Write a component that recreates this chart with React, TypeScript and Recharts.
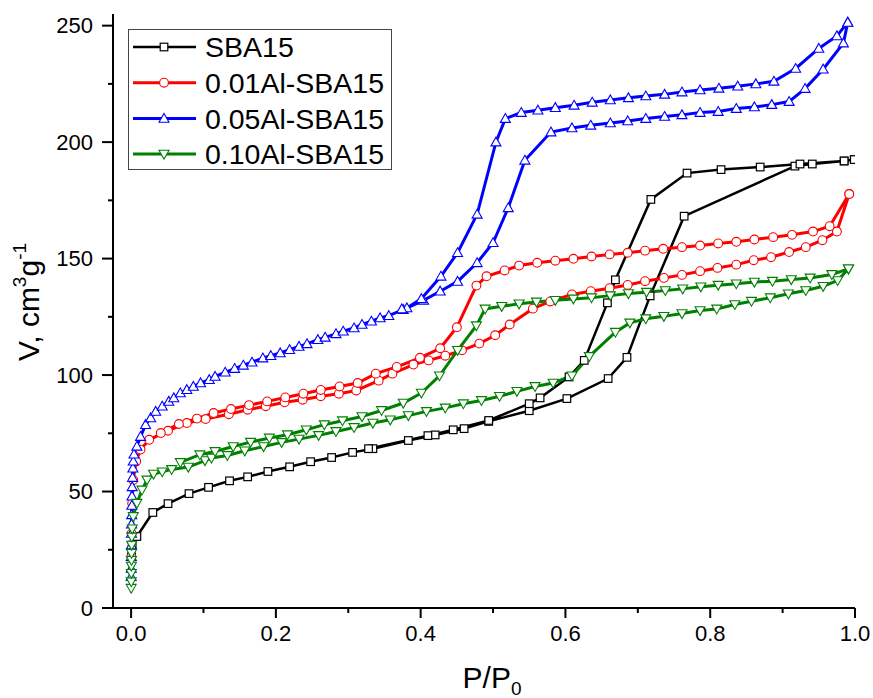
import React from 'react';
import { LineChart, Line, XAxis, YAxis, Legend } from 'recharts';

const FONT = '"Liberation Sans", Arial, Helvetica, sans-serif';

const seriesNames = ['SBA15', '0.01Al-SBA15', '0.05Al-SBA15', '0.10Al-SBA15'];
const seriesColors = ['#000000', '#FF0000', '#0000FF', '#008000'];
const seriesShapes = ['square', 'circle', 'triUp', 'triDown'];

const xTicks = [0, 0.1, 0.2, 0.3, 0.4, 0.5, 0.6, 0.7, 0.8, 0.9, 1.0];
const xMajor = [0, 0.2, 0.4, 0.6, 0.8, 1.0];
const yTicks = [0, 25, 50, 75, 100, 125, 150, 175, 200, 225, 250];
const yMajor = [0, 50, 100, 150, 200, 250];

// [P/P0, V] adsorption then desorption
const sba15Ads: [number, number][] = [
  [0.0005, 22], [0.0015, 27], [0.008, 30.7], [0.03, 41], [0.051, 44.8], [0.08, 49.1], [0.107, 51.8],
  [0.136, 54.6], [0.161, 56.3], [0.189, 58.6], [0.219, 60.6], [0.248, 62.8], [0.277, 64.6], [0.306, 66.8],
  [0.334, 68.4], [0.383, 71.9], [0.42, 74.3], [0.46, 77], [0.494, 80.1], [0.55, 84.7], [0.602, 89.9],
  [0.659, 98.5], [0.685, 107.6], [0.717, 134], [0.764, 168.2], [0.917, 189.7], [0.941, 190.6],
  [0.985, 191.9], [0.999, 192.5],
];
const sba15Des: [number, number][] = [
  [0.999, 192.5], [0.985, 191.9], [0.924, 190.6], [0.869, 189.3], [0.815, 188.2], [0.768, 186.7],
  [0.718, 175.4], [0.669, 140.9], [0.658, 131], [0.626, 106.3], [0.605, 99.2], [0.565, 90.2], [0.55, 87.7],
  [0.494, 80.5], [0.445, 76.5], [0.41, 74], [0.328, 68.4],
];

const al001Ads: [number, number][] = [
  [0.0003, 22], [0.0008, 32], [0.0015, 45], [0.003, 55], [0.007, 63], [0.013, 68], [0.025, 72.2],
  [0.051, 76.1], [0.077, 79.4], [0.103, 81.1], [0.135, 83.2], [0.161, 85.1], [0.186, 86.6], [0.212, 88.3],
  [0.237, 89.4], [0.262, 90.9], [0.287, 92], [0.311, 93.4], [0.342, 97.6], [0.361, 100.6], [0.39, 104.5],
  [0.411, 106.3], [0.434, 108.3], [0.457, 110.6], [0.481, 113.5], [0.503, 117.1], [0.523, 121.7],
  [0.555, 128.5], [0.579, 131.6], [0.609, 134.6], [0.635, 136], [0.661, 137.3], [0.686, 138.7],
  [0.71, 140.3], [0.736, 141.7], [0.761, 143], [0.786, 144.6], [0.81, 146], [0.836, 147.4], [0.86, 149.3],
  [0.884, 150.6], [0.909, 152.8], [0.932, 154.9], [0.955, 157.9], [0.975, 161.6], [0.992, 177.7],
];
const al001Des: [number, number][] = [
  [0.992, 177.7], [0.965, 163.9], [0.942, 161.6], [0.913, 160.2], [0.887, 159.2], [0.861, 158.2],
  [0.836, 157.2], [0.811, 156.5], [0.786, 155.6], [0.761, 154.9], [0.735, 154.2], [0.71, 153.4],
  [0.686, 152.5], [0.661, 151.8], [0.636, 150.9], [0.611, 149.9], [0.586, 149.1], [0.561, 148.2],
  [0.536, 147], [0.516, 144.9], [0.491, 142.4], [0.477, 138.4], [0.45, 120.5], [0.427, 111.5],
  [0.399, 107.4], [0.367, 103.5], [0.338, 100.6], [0.313, 96.6], [0.288, 95.1], [0.262, 93.6],
  [0.238, 92], [0.213, 90.4], [0.188, 88.7], [0.163, 87.1], [0.138, 85.4], [0.114, 83.7], [0.091, 81.3],
  [0.066, 79], [0.041, 75.1],
];

const al005Ads: [number, number][] = [
  [0.0001, 13.5], [0.0002, 17], [0.0003, 22], [0.0004, 27], [0.0005, 32], [0.0006, 36], [0.0008, 40],
  [0.001, 44], [0.0012, 48], [0.0015, 52], [0.002, 56], [0.0025, 60], [0.003, 63], [0.004, 66],
  [0.008, 69.4], [0.013, 73.6], [0.02, 78.7], [0.027, 81.6], [0.034, 84.4], [0.043, 86.6], [0.052, 88.7],
  [0.059, 90.2], [0.068, 92.3], [0.077, 93.7], [0.086, 95.1], [0.096, 96.6], [0.108, 98], [0.116, 99.4],
  [0.13, 101.2], [0.143, 102.8], [0.155, 104.2], [0.167, 105.5], [0.182, 107.3], [0.193, 108.3],
  [0.206, 109.5], [0.219, 110.9], [0.232, 112.3], [0.243, 113.4], [0.258, 115.2], [0.268, 116.2],
  [0.283, 117.7], [0.293, 118.8], [0.308, 120.2], [0.319, 121.7], [0.332, 123.1], [0.344, 124.5],
  [0.356, 125.5], [0.376, 128.1], [0.404, 132.1], [0.427, 136], [0.451, 140.2], [0.478, 148.2],
  [0.5, 156.8], [0.521, 171.8], [0.544, 192.2], [0.58, 204.3], [0.609, 206.1], [0.635, 207.2],
  [0.662, 208.2], [0.686, 209.1], [0.711, 210.1], [0.737, 211], [0.761, 211.7], [0.786, 212.7],
  [0.811, 213.1], [0.836, 214.4], [0.861, 215.1], [0.885, 216.1], [0.909, 217.4], [0.931, 223],
  [0.956, 231.3], [0.984, 242.5], [0.99, 251.4],
];
const al005Des: [number, number][] = [
  [0.99, 251.4], [0.975, 245.6], [0.95, 240.2], [0.918, 231.6], [0.888, 226.1], [0.863, 225],
  [0.838, 224], [0.812, 223.1], [0.786, 222.4], [0.761, 221.5], [0.737, 220.5], [0.711, 219.8],
  [0.687, 219], [0.662, 218.1], [0.637, 217.1], [0.612, 215.8], [0.586, 214.8], [0.562, 213.7],
  [0.539, 212.7], [0.517, 210.1], [0.504, 200], [0.478, 169], [0.451, 152.5], [0.428, 142.4],
  [0.401, 132.8], [0.381, 128.8], [0.374, 128.4],
];

const al010Ads: [number, number][] = [
  [0.0001, 8.5], [0.0002, 11.3], [0.0003, 14.9], [0.0004, 18], [0.0005, 20.5], [0.0006, 23.5],
  [0.0008, 27], [0.001, 30.5], [0.0015, 34], [0.003, 39.3], [0.008, 45], [0.015, 50.7], [0.022, 55],
  [0.031, 57.5], [0.043, 58.5], [0.056, 59.5], [0.079, 60.5], [0.102, 63.3], [0.111, 64.4], [0.133, 65.5],
  [0.157, 67.5], [0.183, 69.3], [0.208, 71.1], [0.232, 72.5], [0.259, 74.1], [0.283, 75.8], [0.308, 77.5],
  [0.334, 79.4], [0.358, 80.8], [0.383, 82.6], [0.408, 84.4], [0.434, 85.9], [0.459, 87.7], [0.484, 89.1],
  [0.509, 90.9], [0.533, 93], [0.558, 95.1], [0.583, 96.6], [0.609, 99.7], [0.633, 108], [0.669, 118.4],
  [0.689, 122.4], [0.711, 124.2], [0.736, 125.2], [0.761, 126.4], [0.786, 127.7], [0.809, 128.4],
  [0.834, 130.3], [0.857, 131.7], [0.883, 133.2], [0.908, 134.9], [0.932, 136.3], [0.956, 138.1],
  [0.976, 140.6], [0.991, 145.6],
];
const al010Des: [number, number][] = [
  [0.991, 145.6], [0.968, 143.2], [0.938, 141.7], [0.912, 141], [0.886, 140.3], [0.861, 139.9],
  [0.836, 139.2], [0.811, 138.6], [0.787, 137.9], [0.762, 137], [0.738, 136.3], [0.712, 135.6],
  [0.687, 135], [0.662, 134.1], [0.636, 133.2], [0.611, 132.7], [0.586, 132.1], [0.56, 131.4],
  [0.536, 130.6], [0.512, 129.5], [0.489, 128.4], [0.477, 121.2], [0.451, 110.6], [0.426, 99.7],
  [0.401, 92.3], [0.376, 88], [0.346, 84.8], [0.319, 82.2], [0.292, 80.4], [0.267, 78.7], [0.242, 76.5],
  [0.216, 74.4], [0.191, 73], [0.165, 71.2], [0.141, 69.3], [0.116, 67.2], [0.095, 65.8], [0.068, 62.5],
];

const toRows = (a: [number, number][], d: [number, number][]) =>
  [...a, ...d].map(([p, v]) => ({ p, v }));

const seriesData = [
  toRows(sba15Ads, sba15Des),
  toRows(al001Ads, al001Des),
  toRows(al005Ads, al005Des),
  toRows(al010Ads, al010Des),
];
const lineWidths = [2.5, 3, 3, 3];

function renderMarker(shape: string, cx: number, cy: number, color: string, key?: any) {
  if (shape === 'square') {
    return <rect key={key} x={cx - 3.8} y={cy - 3.8} width={7.6} height={7.6} fill="#fff" stroke={color} strokeWidth={1.2} />;
  }
  if (shape === 'circle') {
    return <circle key={key} cx={cx} cy={cy} r={4.4} fill="#fff" stroke={color} strokeWidth={1.1} />;
  }
  if (shape === 'triUp') {
    const pts = `${cx},${cy - 5} ${cx + 5},${cy + 3.8} ${cx - 5},${cy + 3.8}`;
    return <polygon key={key} points={pts} fill="#fff" stroke={color} strokeWidth={1.1} />;
  }
  const pts = `${cx - 5},${cy - 3.8} ${cx + 5},${cy - 3.8} ${cx},${cy + 5}`;
  return <polygon key={key} points={pts} fill="#fff" stroke={color} strokeWidth={1.1} />;
}

const makeDot = (shape: string, color: string) => (props: any) => {
  const { cx, cy, index } = props;
  if (cx == null || cy == null || isNaN(cx) || isNaN(cy)) return <g key={`e${index}`} />;
  return renderMarker(shape, cx, cy, color, `d${index}`);
};

const isIn = (arr: number[], v: number) => arr.some((m) => Math.abs(m - v) < 1e-9);

const XTick = (props: any) => {
  const { x, y, payload } = props;
  const major = isIn(xMajor, payload.value);
  return (
    <g>
      <line x1={x} y1={y} x2={x} y2={y + (major ? 10 : 5)} stroke="#000" strokeWidth={2} />
      {major && (
        <text x={x} y={y + 17} dy="0.71em" textAnchor="middle" fontSize={22} fontFamily={FONT} fill="#000">
          {payload.value.toFixed(1)}
        </text>
      )}
    </g>
  );
};

const YTick = (props: any) => {
  const { x, y, payload } = props;
  const major = isIn(yMajor, payload.value);
  return (
    <g>
      <line x1={x} y1={y} x2={x - (major ? 11 : 5)} y2={y} stroke="#000" strokeWidth={2} />
      {major && (
        <text x={x - 20} y={y} dy="0.355em" textAnchor="end" fontSize={22} fontFamily={FONT} fill="#000">
          {payload.value}
        </text>
      )}
    </g>
  );
};

const XLabel = (props: any) => {
  const vb = props.viewBox || { x: 113, y: 608, width: 742, height: 90 };
  const cx = vb.x + vb.width / 2 + 8;
  const by = vb.y + 80;
  return (
    <text x={cx} y={by} textAnchor="middle" fontSize={30} fontFamily={FONT} fill="#000">
      P/P<tspan dy={7} fontSize={19}>0</tspan>
    </text>
  );
};

const YLabel = (props: any) => {
  const vb = props.viewBox || { x: 0, y: 14, width: 113, height: 594 };
  const cy = vb.y + vb.height / 2 - 9;
  const bx = 39;
  return (
    <text x={bx} y={cy} transform={`rotate(-90 ${bx} ${cy})`} textAnchor="middle" fontSize={30} fontFamily={FONT} fill="#000">
      V, cm<tspan dy={-13} fontSize={19}>3</tspan>
      <tspan dy={13}>g</tspan>
      <tspan dy={-13} fontSize={19}>-1</tspan>
    </text>
  );
};

const LegendBox = () => (
  <svg width={264} height={141} style={{ display: 'block' }}>
    <rect x={0.5} y={0.5} width={263} height={140} fill="#fff" stroke="#444" strokeWidth={1} />
    {seriesNames.map((name, i) => {
      const cy = 18 + i * 35.7;
      const color = seriesColors[i];
      return (
        <g key={name}>
          <line x1={5} x2={68} y1={cy} y2={cy} stroke={color} strokeWidth={lineWidths[i]} />
          {renderMarker(seriesShapes[i], 36, cy, color)}
          <text x={77} y={cy} dy="0.36em" fontSize={28.5} fontFamily={FONT} fill="#000">
            {name}
          </text>
        </g>
      );
    })}
  </svg>
);

const axisStyle = { stroke: '#000', strokeWidth: 2 };

export default function App() {
  return (
    <div style={{ position: 'absolute', left: 0, top: 0, width: 873, height: 698, background: '#fff' }}>
      <LineChart width={873} height={698} margin={{ top: 14, right: 18, bottom: 0, left: 0 }}>
        <XAxis
          type="number"
          dataKey="p"
          domain={[-0.025, 1]}
          ticks={xTicks}
          interval={0}
          allowDataOverflow
          tick={<XTick />}
          tickLine={false}
          tickSize={0}
          tickMargin={0}
          height={90}
          axisLine={axisStyle}
          label={{ content: XLabel }}
        />
        <XAxis xAxisId="top" orientation="top" type="number" domain={[-0.025, 1]} height={0} tick={false} tickLine={false} axisLine={axisStyle} />
        <YAxis
          type="number"
          domain={[0, 255]}
          ticks={yTicks}
          interval={0}
          allowDataOverflow
          tick={<YTick />}
          tickLine={false}
          tickSize={0}
          tickMargin={0}
          width={113}
          axisLine={axisStyle}
          label={{ content: YLabel }}
        />
        <YAxis yAxisId="right" orientation="right" type="number" domain={[0, 255]} width={0} tick={false} tickLine={false} axisLine={axisStyle} />
        {seriesData.map((d, i) => (
          <Line
            key={seriesNames[i]}
            name={seriesNames[i]}
            data={d}
            dataKey="v"
            type="linear"
            stroke={seriesColors[i]}
            strokeWidth={lineWidths[i]}
            dot={makeDot(seriesShapes[i], seriesColors[i])}
            activeDot={false}
            isAnimationActive={false}
          />
        ))}
        <Legend
          layout="vertical"
          align="center"
          verticalAlign="middle"
          content={() => <LegendBox />}
          wrapperStyle={{ position: 'absolute', left: 128, top: 29, width: 264, height: 141 }}
        />
      </LineChart>
    </div>
  );
}
